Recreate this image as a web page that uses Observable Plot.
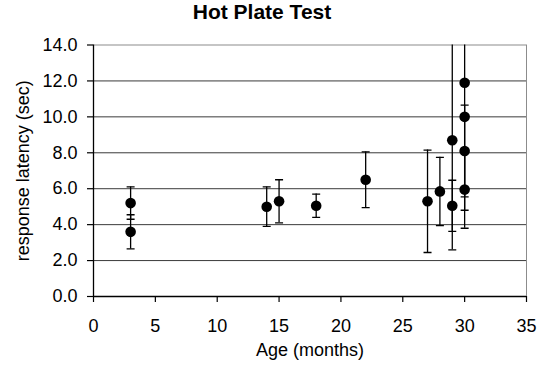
<!DOCTYPE html>
<html>
<head>
<meta charset="utf-8">
<script src="https://cdn.jsdelivr.net/npm/d3@7"></script>
<script src="https://cdn.jsdelivr.net/npm/@observablehq/plot@0.6"></script>
<style>
  body { margin: 0; background: white; }
  #title { width: 524px; height: 36px; line-height: 47px; overflow: visible; text-align: center;
           font: bold 21px "Liberation Sans", Arial, sans-serif; color: black; }
</style>
</head>
<body>
<div id="title">Hot Plate Test</div>
<div id="chart"></div>
<script>
const ages      = [3, 3, 14, 15, 18, 22, 27, 28, 29, 29, 30, 30, 30, 30];
const latencies = [5.2, 3.6, 5.0, 5.3, 5.05, 6.5, 5.3, 5.85, 8.7, 5.05, 11.9, 10.0, 8.1, 5.95];
const errors    = [0.9, 0.95, 1.1, 1.2, 0.65, 1.55, 2.85, 1.9, 6.1, 1.42, 7.1, 0.12, 2.55, 2.15];
const yTicks = [0, 2, 4, 6, 8, 10, 12, 14];
const xTicks = [0, 5, 10, 15, 20, 25, 30, 35];
const gridLines = [2, 4, 6, 8, 10, 12];
const xLabel = "Age (months)";
const yLabel = "response latency (sec)";

const data = ages.map((a, i) => ({age: a, y: latencies[i], lo: latencies[i] - errors[i], hi: latencies[i] + errors[i]}));
const caps = data.flatMap(d => [{age: d.age, v: d.lo}, {age: d.age, v: d.hi}]);

const capSymbol = {
  draw(context, size) {
    const w = Math.sqrt(size / Math.PI);
    context.moveTo(-w, 0);
    context.lineTo(w, 0);
  }
};

const chart = Plot.plot({
  width: 542,
  height: 331,
  marginTop: 8.5,
  marginBottom: 71,
  marginLeft: 93,
  marginRight: 16,
  style: {fontFamily: "'Liberation Sans', Arial, sans-serif", fontSize: "18px", color: "black", background: "white", overflow: "visible"},
  x: {domain: [0, 35]},
  y: {domain: [0, 14]},
  marks: [
    Plot.ruleY(gridLines, {stroke: "#3a3a3a", strokeWidth: 1}),
    Plot.frame({stroke: "#8c8c8c", strokeWidth: 1}),
    Plot.axisY(yTicks, {tickSize: 6, tickPadding: 10, tickFormat: d3.format(".1f"), label: null, strokeWidth: 1.2}),
    Plot.axisX(xTicks, {tickSize: 6, tickPadding: 17, tickFormat: d => String(d), label: null, strokeWidth: 1.2}),
    Plot.ruleX([0], {stroke: "black", strokeWidth: 1.3}),
    Plot.ruleY([0], {stroke: "black", strokeWidth: 1.3}),
    Plot.ruleX(data, {x: "age", y1: "lo", y2: "hi", stroke: "black", strokeWidth: 1.3, clip: true}),
    Plot.dot(caps, {x: "age", y: "v", symbol: capSymbol, r: 4, stroke: "black", fill: "none", strokeWidth: 1.3, clip: true}),
    Plot.dot(data, {x: "age", y: "y", r: 5.3, fill: "black", stroke: "none"}),
    Plot.text([xLabel], {frameAnchor: "bottom", textAnchor: "middle", dy: 59, fontSize: 18, fill: "black"}),
    Plot.text([yLabel], {frameAnchor: "left", textAnchor: "middle", rotate: -90, dx: -70, fontSize: 18, fill: "black"})
  ]
});
document.getElementById("chart").appendChild(chart);
</script>
</body>
</html>
